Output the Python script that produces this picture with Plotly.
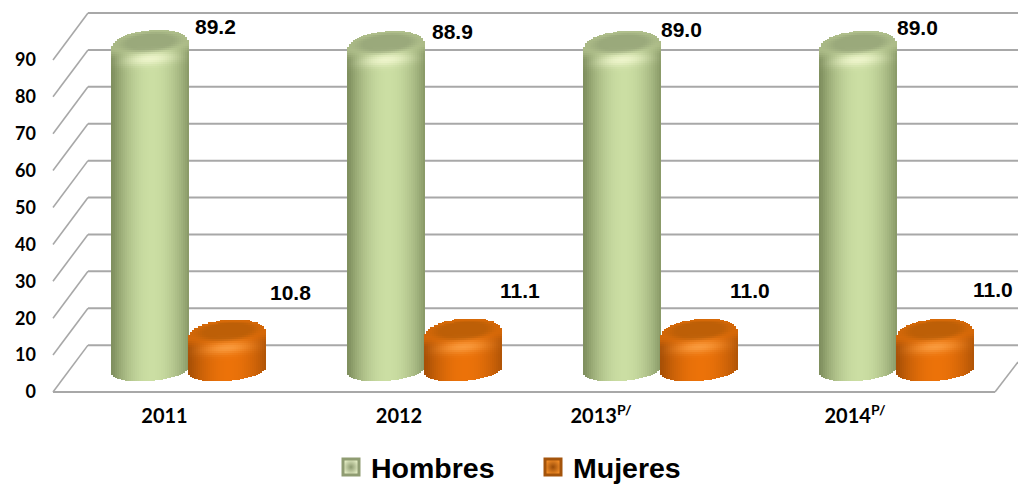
import math
import plotly.graph_objects as go

# ---- data ----
years = ["2011", "2012", "2013<sup>P/</sup>", "2014<sup>P/</sup>"]
hombres = [89.2, 88.9, 89.0, 89.0]
mujeres = [10.8, 11.1, 11.0, 11.0]
y_ticks = [0, 10, 20, 30, 40, 50, 60, 70, 80, 90]

# ---- scene geometry (pixels of the 1018x484 frame) ----
W, H = 1018, 484
PLOT_L, PLOT_B = 37, 400
PX_U = 3.69          # pixels per y unit
FLOOR_Y = 392        # pixel of y = 0 at the front edge
PX_GROUP = 236       # pixels per category
G0 = 188.5           # pixel of the first category's centre
X_HALF = 39.0        # cylinder half width
TILT = 3.0           # the ellipses lean up to the right, pixels
DEPTH_BACK = 12.7    # back wall offset, y units
DEPTH_MID = 4.06     # cylinder centre offset, y units
BASE_MID = 5.96      # cylinder bottom ellipse centre, y units


def x_of(px):
    return (px - G0) / PX_GROUP


def y_of(py):
    return (FLOOR_Y - py) / PX_U


def hx(c):
    return tuple(int(c[i:i + 2], 16) for i in (1, 3, 5))


def mix(a, b, t):
    t = max(0.0, min(1.0, t))
    return tuple(a[i] + (b[i] - a[i]) * t for i in range(3))


def smooth(e0, e1, v):
    t = max(0.0, min(1.0, (v - e0) / (e1 - e0)))
    return t * t * (3 - 2 * t)


GREEN = dict(edge=hx("#80905f"), mid=hx("#cbdea3"), cap=hx("#9aa97b"), hl=hx("#f0f6ce"), rim=hx("#b4c38f"))
ORANGE = dict(edge=hx("#a85006"), mid=hx("#ec7209"), cap=hx("#bd5f07"), hl=hx("#fa9e42"), rim=hx("#dd6c08"))


def body(u, pal):
    return mix(pal["edge"], pal["mid"], 1 - abs(u - 0.05) ** 2.0)


def shade(u, dy, pal):
    """colour of the rounded top at strip u, dy pixels below the top ellipse centre"""
    col = body(u, pal)
    if dy < 10:
        col = mix(col, pal["rim"], smooth(10, -2, dy) * 0.8)
    d = math.hypot(u * X_HALF / 28.0, (dy + 6) / 9.0)
    col = mix(col, pal["cap"], smooth(1.4, 0.75, d))
    hl = math.exp(-(u / 0.6) ** 2 - ((dy - 11) / 6.0) ** 2)
    col = mix(col, pal["hl"], hl * 0.9)
    return col


def css(c):
    return "rgb(%d,%d,%d)" % tuple(round(v) for v in c)


def cylinders(values, offset, pal, name):
    xs, bases, heights, colors = [], [], [], []
    strip = 2.0
    n = int(2 * X_HALF / strip)
    seg = 2.0
    bevel = 26.0
    for g, v in enumerate(values):
        centre = v + DEPTH_MID
        for k in range(n):
            u = -1 + (k + 0.5) * 2 / n
            lean = TILT * u
            xp = G0 + PX_GROUP * g + offset + u * X_HALF
            top_off = 17.0 * (1 - abs(u) ** 2.25) ** (1 / 2.25) + lean
            low = BASE_MID + (lean - 11.0 * math.sqrt(1 - u * u)) / PX_U
            split = centre - bevel / PX_U
            xs.append(x_of(xp))
            bases.append(low)
            heights.append(split - low)
            colors.append(css(body(u, pal)))
            dy = bevel
            while dy > -top_off:
                nxt = max(dy - seg, -top_off)
                xs.append(x_of(xp))
                bases.append(centre - dy / PX_U)
                heights.append((dy - nxt) / PX_U)
                colors.append(css(shade(u, (dy + nxt) / 2 + lean, pal)))
                dy = nxt
    return go.Bar(x=xs, base=bases, y=heights, width=strip / PX_GROUP + 0.0005,
                  marker=dict(color=colors, line=dict(width=0)), name=name,
                  showlegend=False, hoverinfo="skip")


fig = go.Figure()
fig.add_trace(cylinders(hombres, -38.5, GREEN, "Hombres"))
fig.add_trace(cylinders(mujeres, 38.5, ORANGE, "Mujeres"))

# legend entries
fig.add_trace(go.Scatter(x=[None], y=[None], mode="markers", name="Hombres",
                         marker=dict(symbol="square", size=16, color="#e2ebc2",
                                     line=dict(color="#8f9c72", width=3),
                                     gradient=dict(type="radial", color="#8d9a70"))))
fig.add_trace(go.Scatter(x=[None], y=[None], mode="markers", name="Mujeres",
                         marker=dict(symbol="square", size=16, color="#f28d28",
                                     line=dict(color="#a4540c", width=3),
                                     gradient=dict(type="radial", color="#9a4c08"))))

# back wall, side wall and floor
GRID = "#a8a8a8"
shapes = []
X_FRONT, X_BACK, X_RIGHT = x_of(53), x_of(88), x_of(1018)
for t in y_ticks:
    shapes.append(dict(type="line", layer="below", x0=X_FRONT, x1=X_BACK, y0=t, y1=t + DEPTH_BACK,
                       line=dict(color=GRID, width=1.6)))
    shapes.append(dict(type="line", layer="below", x0=X_BACK, x1=X_RIGHT, y0=t + DEPTH_BACK, y1=t + DEPTH_BACK,
                       line=dict(color=GRID, width=2)))
shapes.append(dict(type="line", layer="below", x0=X_FRONT, x1=x_of(995), y0=0, y1=0,
                   line=dict(color=GRID, width=2)))
shapes.append(dict(type="line", layer="below", x0=x_of(995), x1=X_RIGHT, y0=0, y1=y_of(362),
                   line=dict(color=GRID, width=1.6)))

# value labels
LABEL_H = [(215, 26), (452, 31), (681, 29), (917, 27)]
LABEL_M = [(290, 292), (520, 290), (750, 290), (993, 289)]
annotations = []
for vals, places in ((hombres, LABEL_H), (mujeres, LABEL_M)):
    for v, (lx, ly) in zip(vals, places):
        annotations.append(dict(x=x_of(lx), y=y_of(ly), text="<b>%.1f</b>" % v, showarrow=False,
                                xanchor="center", yanchor="middle",
                                font=dict(family="Liberation Sans", size=21, color="#000000")))

TICK_PX = [164.5, 399, 601, 855]
fig.update_layout(
    width=W, height=H, autosize=False,
    margin=dict(l=PLOT_L, r=0, t=0, b=H - PLOT_B, pad=0),
    paper_bgcolor="white", plot_bgcolor="white",
    barmode="overlay", bargap=0,
    shapes=shapes, annotations=annotations,
    xaxis=dict(range=[x_of(PLOT_L), x_of(W)], tickmode="array", tickvals=[x_of(p) for p in TICK_PX],
               ticktext=years, showgrid=False, zeroline=False, showline=False, ticks="",
               ticklabelstandoff=2,
               tickfont=dict(family="Lato", size=20, color="#000000", weight="bold")),
    yaxis=dict(range=[y_of(PLOT_B), y_of(0)], tickmode="array", tickvals=y_ticks,
               showgrid=False, zeroline=False, showline=False, ticks="",
               tickfont=dict(family="Lato", size=18, color="#000000", weight="bold")),
    legend=dict(orientation="h", x=331 / W, xanchor="left", y=(H - 467.5) / H, yanchor="middle",
                yref="container", xref="container",
                entrywidth=157, entrywidthmode="pixels",
                font=dict(family="Liberation Sans", size=28.5, color="#000000", weight="bold"),
                bgcolor="rgba(0,0,0,0)"),
)

fig.write_html("out.html", config={"displayModeBar": False},
               post_script="document.body.style.margin='0';")
